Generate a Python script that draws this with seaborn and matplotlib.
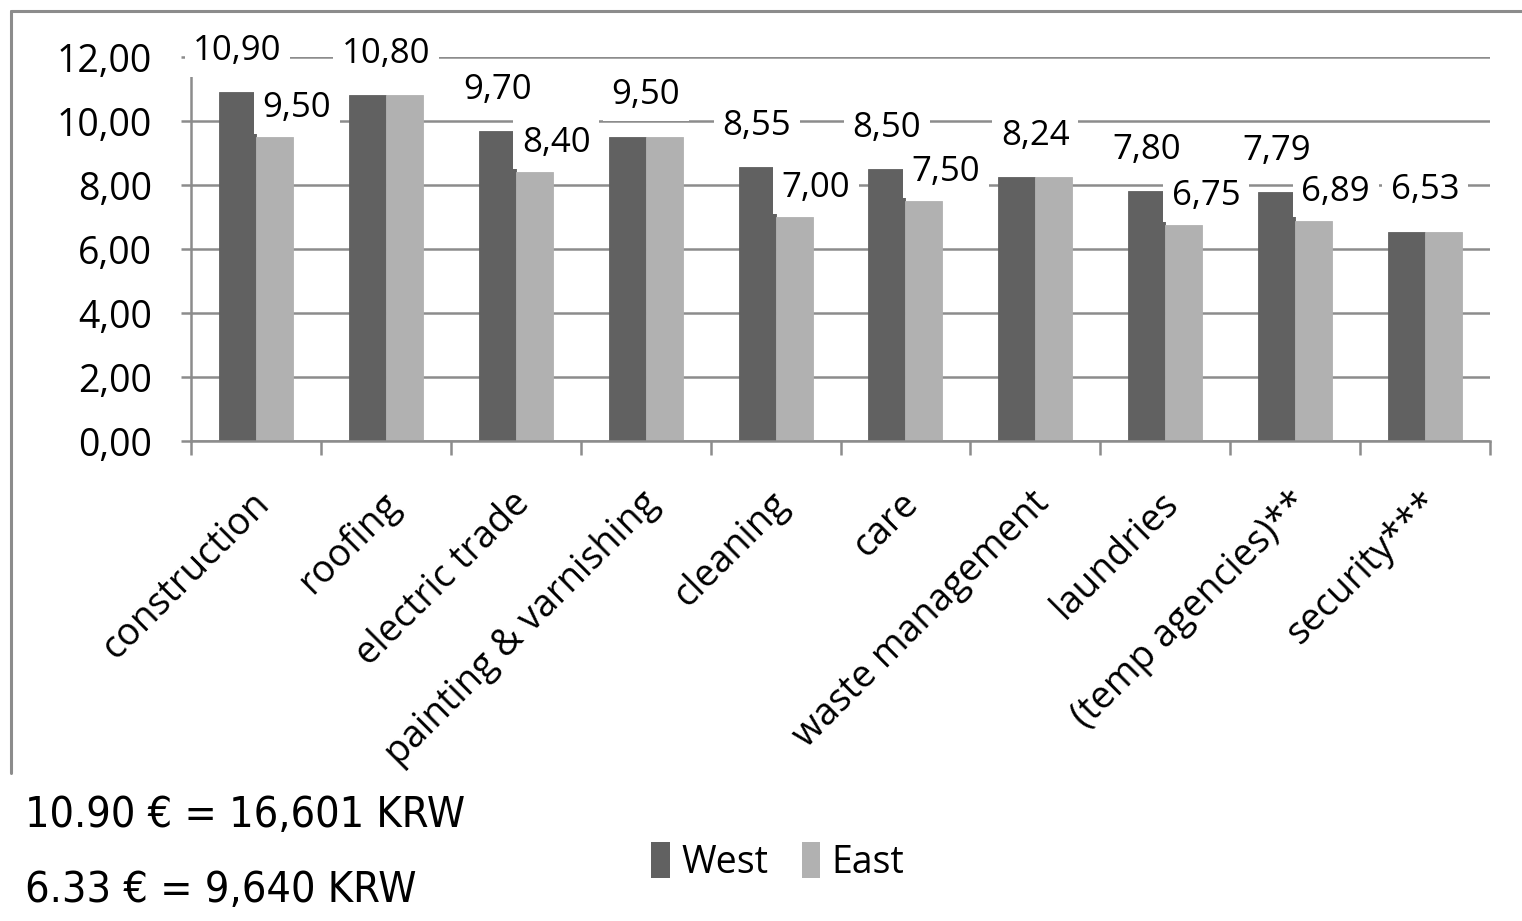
import matplotlib
matplotlib.use("Agg")
import matplotlib.pyplot as plt
from matplotlib.lines import Line2D
from matplotlib.patches import Patch
from matplotlib.ticker import FuncFormatter, FixedLocator
import matplotlib.transforms as mtransforms
import pandas as pd
import seaborn as sns

# data (hourly minimum wage, EUR)
categories = ["construction", "roofing", "electric trade", "painting & varnishing",
              "cleaning", "care", "waste management", "laundries",
              "(temp agencies)**", "security***"]
west = [10.90, 10.80, 9.70, 9.50, 8.55, 8.50, 8.24, 7.80, 7.79, 6.53]
east = [9.50, 10.80, 8.40, 9.50, 7.00, 7.50, 8.24, 6.75, 6.89, 6.53]
regions = ["West", "East"]
notes = ["10.90 € = 16,601 KRW", "6.33 € = 9,640 KRW"]

WEST_C = "#616161"
EAST_C = "#b1b1b1"
GRID_C = "#8c8c8c"

df = pd.DataFrame({
    "category": categories * 2,
    "wage": west + east,
    "region": ["West"] * len(west) + ["East"] * len(east),
})

sns.set_theme(style="white")
plt.rcParams["font.family"] = ["Open Sans", "DejaVu Sans"]
plt.rcParams["text.color"] = "black"
plt.rcParams["xtick.labelcolor"] = "black"
plt.rcParams["ytick.labelcolor"] = "black"

fig = plt.figure(figsize=(15.22, 9.21), dpi=100)
ax = fig.add_axes([191 / 1522, 1 - 441 / 921, (1490 - 191) / 1522, (441 - 57) / 921])

sns.barplot(data=df, x="category", y="wage", hue="region", hue_order=regions,
            palette=[WEST_C, EAST_C], width=0.57, gap=0, saturation=1,
            linewidth=0, legend=False, ax=ax)
# close the hairline gap between touching bars
for p in ax.patches:
    p.set_edgecolor(p.get_facecolor())
    p.set_linewidth(0.6)

ax.set_xlim(-0.5, len(categories) - 0.5)
ax.set_ylim(0, 12)
ax.set_xlabel("")
ax.set_ylabel("")

# axes styling
for s in ["top", "right"]:
    ax.spines[s].set_visible(False)
for s in ["left", "bottom"]:
    ax.spines[s].set_color(GRID_C)
    ax.spines[s].set_linewidth(1.8)
ax.yaxis.grid(True, color=GRID_C, linewidth=1.8)
ax.set_axisbelow(True)

ax.set_yticks(range(0, 13, 2))
ax.yaxis.set_major_formatter(FuncFormatter(lambda v, p: f"{v:.2f}".replace(".", ",")))
ax.tick_params(axis="y", which="major", length=7, width=1.8, color=GRID_C,
               labelsize=27, pad=21, left=True, labelcolor="black")

ax.xaxis.set_minor_locator(FixedLocator([i - 0.5 for i in range(len(categories) + 1)]))
ax.tick_params(axis="x", which="minor", length=10, width=1.8, color=GRID_C, bottom=True)
ax.tick_params(axis="x", which="major", length=0, labelsize=27, pad=41, labelcolor="black")
for lab in ax.get_xticklabels():
    lab.set_rotation(45)
    lab.set_ha("right")
    lab.set_va("center")
    lab.set_rotation_mode("anchor")
    lab.set_transform(lab.get_transform() +
                      mtransforms.ScaledTranslation(8 / 100, 0, fig.dpi_scale_trans))

# value labels with white boxes (break the gridlines like the original)
box = dict(boxstyle="square,pad=0.25", fc="white", ec="none")
fmt = lambda v: f"{v:.2f}".replace(".", ",")
west_bars, east_bars = ax.containers[0], ax.containers[1]
for i in range(len(categories)):
    wb, eb = west_bars[i], east_bars[i]
    if west[i] == east[i]:
        ax.text(i, west[i] + 1.3, fmt(west[i]), ha="center", va="center",
                fontsize=25, bbox=box, zorder=4)
    else:
        ax.text(wb.get_x() + wb.get_width() / 2, west[i] + 1.28, fmt(west[i]),
                ha="center", va="center", fontsize=25, bbox=box, zorder=4)
        ax.text(eb.get_x() + eb.get_width() / 2 + 0.17, east[i] + 0.9, fmt(east[i]),
                ha="center", va="center", fontsize=25, bbox=box, zorder=4)

# outer frame (top and left edges of the chart box)
fig.add_artist(Line2D([11 / 1522, 1.0], [1 - 11 / 921] * 2, color=GRID_C, lw=2.2,
                      transform=fig.transFigure))
fig.add_artist(Line2D([11 / 1522] * 2, [1 - 11 / 921, 1 - 773 / 921], color=GRID_C,
                      lw=2.2, transform=fig.transFigure))

# legend
handles = [Patch(facecolor=WEST_C, edgecolor="none"), Patch(facecolor=EAST_C, edgecolor="none")]
fig.legend(handles, regions, loc="center", bbox_to_anchor=(0.511, 0.064), ncol=2,
           frameon=False, fontsize=27, handlelength=0.5, handleheight=1.1,
           handletextpad=0.3, columnspacing=0.9)

# conversion notes
for txt, ypx in zip(notes, [815, 890]):
    fig.text(25 / 1522, 1 - ypx / 921, txt, fontsize=31, va="center",
             family=["DejaVu Sans"], fontstretch="condensed")

fig.savefig("out.png", dpi=100)
